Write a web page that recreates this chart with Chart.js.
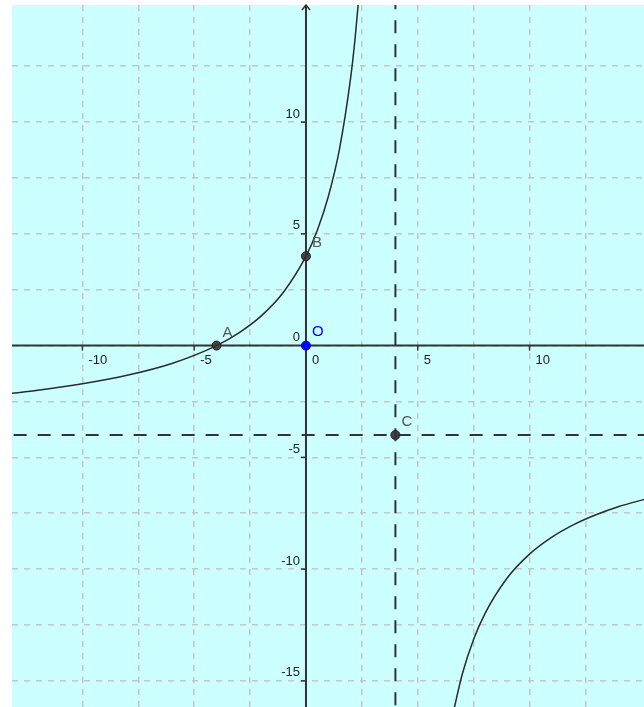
<!DOCTYPE html>
<html>
<head>
<meta charset="utf-8">
<script src="https://cdn.jsdelivr.net/npm/chart.js@4.4.1/dist/chart.umd.min.js"></script>
<style>
  html, body { margin: 0; padding: 0; background: #fff; overflow: hidden; }
  canvas { display: block; }
</style>
</head>
<body>
<canvas id="graph" width="644" height="707"></canvas>
<script>
// window of the graph
const xMin = -13.15, xMax = 15.12;
const yMin = -16.17, yMax = 15.24;

// curve, left branch
const leftX = [-13.2, -12, -10, -8, -6, -4, -3, -2, -1, 0, 0.5, 1, 1.5, 2, 2.2, 2.4];
const leftY = [-2.14, -2, -1.71, -1.33, -0.8, 0, 0.57, 1.33, 2.4, 4, 5.14, 6.67, 8.8, 12, 13.78, 16];
// curve, right branch
const rightX = [6.5, 7, 7.5, 8, 9, 10, 11, 12, 13, 14, 15.2];
const rightY = [-16.8, -14.67, -13.14, -12, -10.4, -9.33, -8.57, -8, -7.56, -7.2, -6.86];

// asymptotes
const vAsym = 4;
const hAsym = -4;

// named points
const ptNames = ['A', 'B', 'C'];
const ptX = [-4, 0, 4];
const ptY = [0, 4, -4];
const originPt = { x: 0, y: 0 };

// axis labels
const xTickLabels = [-10, -5, 0, 5, 10];
const yTickLabels = [-15, -10, -5, 0, 5, 10];

const toXY = (xs, ys) => xs.map((x, i) => ({ x: x, y: ys[i] }));

const onStep = s => {
  s.ticks = s.ticks.filter(t => Math.abs(t.value / 2.5 - Math.round(t.value / 2.5)) < 1e-6);
};

const graphPaper = {
  id: 'graphPaper',
  beforeDraw(chart) {
    const { ctx, chartArea: a } = chart;
    ctx.save();
    ctx.fillStyle = '#ccffff';
    ctx.fillRect(a.left, a.top, a.right - a.left, a.bottom - a.top);
    ctx.restore();
  },
  beforeDatasetsDraw(chart) {
    const { ctx, chartArea: a, scales } = chart;
    const x0 = scales.x.getPixelForValue(0);
    const y0 = scales.y.getPixelForValue(0);
    ctx.save();
    ctx.strokeStyle = '#333';
    ctx.lineWidth = 2;
    ctx.beginPath();
    ctx.moveTo(a.left, y0); ctx.lineTo(a.right, y0);
    ctx.moveTo(x0, a.top); ctx.lineTo(x0, a.bottom);
    ctx.stroke();
    // arrow head at top of y axis
    ctx.lineWidth = 1.5;
    ctx.beginPath();
    ctx.moveTo(x0 - 4, a.top + 5); ctx.lineTo(x0, a.top); ctx.lineTo(x0 + 4, a.top + 5);
    ctx.stroke();
    ctx.fillStyle = '#222';
    ctx.font = '13px "Liberation Sans", Arial, sans-serif';
    ctx.textBaseline = 'middle';
    xTickLabels.forEach(v => {
      const px = scales.x.getPixelForValue(v);
      if (v !== 0) {
        ctx.beginPath(); ctx.moveTo(px, y0); ctx.lineTo(px, y0 + 5); ctx.stroke();
      }
      ctx.textAlign = 'left';
      ctx.fillText(String(v), px + 6, y0 + 15);
    });
    yTickLabels.forEach(v => {
      const py = scales.y.getPixelForValue(v);
      if (v !== 0) {
        ctx.beginPath(); ctx.moveTo(x0, py); ctx.lineTo(x0 - 5, py); ctx.stroke();
      }
      ctx.textAlign = 'right';
      ctx.fillText(String(v), x0 - 6, py - 8);
    });
    ctx.restore();
  },
  afterDatasetsDraw(chart) {
    const { ctx, scales } = chart;
    ctx.save();
    ctx.font = '15px "Liberation Sans", Arial, sans-serif';
    ctx.textBaseline = 'middle';
    ctx.textAlign = 'left';
    ctx.fillStyle = '#555';
    ptNames.forEach((n, i) => {
      const px = scales.x.getPixelForValue(ptX[i]);
      const py = scales.y.getPixelForValue(ptY[i]);
      ctx.fillText(n, px + 6, py - 13);
    });
    ctx.fillStyle = '#0000ff';
    ctx.fillText('O', scales.x.getPixelForValue(originPt.x) + 6, scales.y.getPixelForValue(originPt.y) - 14);
    ctx.restore();
  }
};

new Chart(document.getElementById('graph'), {
  type: 'scatter',
  data: {
    datasets: [
      {
        data: toXY(leftX, leftY),
        showLine: true, borderColor: '#2b2b2b', borderWidth: 1.5,
        pointRadius: 0, cubicInterpolationMode: 'monotone'
      },
      {
        data: toXY(rightX, rightY),
        showLine: true, borderColor: '#2b2b2b', borderWidth: 1.5,
        pointRadius: 0, cubicInterpolationMode: 'monotone'
      },
      {
        data: [{ x: vAsym, y: yMin - 1 }, { x: vAsym, y: yMax + 1 }],
        showLine: true, borderColor: '#333', borderWidth: 2,
        borderDash: [13, 11], pointRadius: 0
      },
      {
        data: [{ x: xMin - 1, y: hAsym }, { x: xMax + 1, y: hAsym }],
        showLine: true, borderColor: '#333', borderWidth: 2,
        borderDash: [13, 11], pointRadius: 0
      },
      {
        data: toXY(ptX, ptY),
        pointRadius: 4.5, pointBackgroundColor: '#444', pointBorderColor: '#222', pointBorderWidth: 1
      },
      {
        data: [originPt],
        pointRadius: 4.5, pointBackgroundColor: '#0000ff', pointBorderColor: '#0000cc', pointBorderWidth: 1
      }
    ]
  },
  options: {
    responsive: false,
    animation: false,
    layout: { autoPadding: false, padding: { left: 12, top: 5, right: 0, bottom: 0 } },
    plugins: { legend: { display: false }, tooltip: { enabled: false } },
    scales: {
      x: {
        type: 'linear', min: xMin, max: xMax,
        ticks: { display: false, stepSize: 2.5 },
        afterBuildTicks: onStep,
        grid: { color: '#c6c6c6', lineWidth: 1.5, drawTicks: false },
        border: { display: false, dash: [6, 6] }
      },
      y: {
        type: 'linear', min: yMin, max: yMax,
        ticks: { display: false, stepSize: 2.5 },
        afterBuildTicks: onStep,
        grid: { color: '#c6c6c6', lineWidth: 1.5, drawTicks: false },
        border: { display: false, dash: [6, 6] }
      }
    }
  },
  plugins: [graphPaper]
});
</script>
</body>
</html>
